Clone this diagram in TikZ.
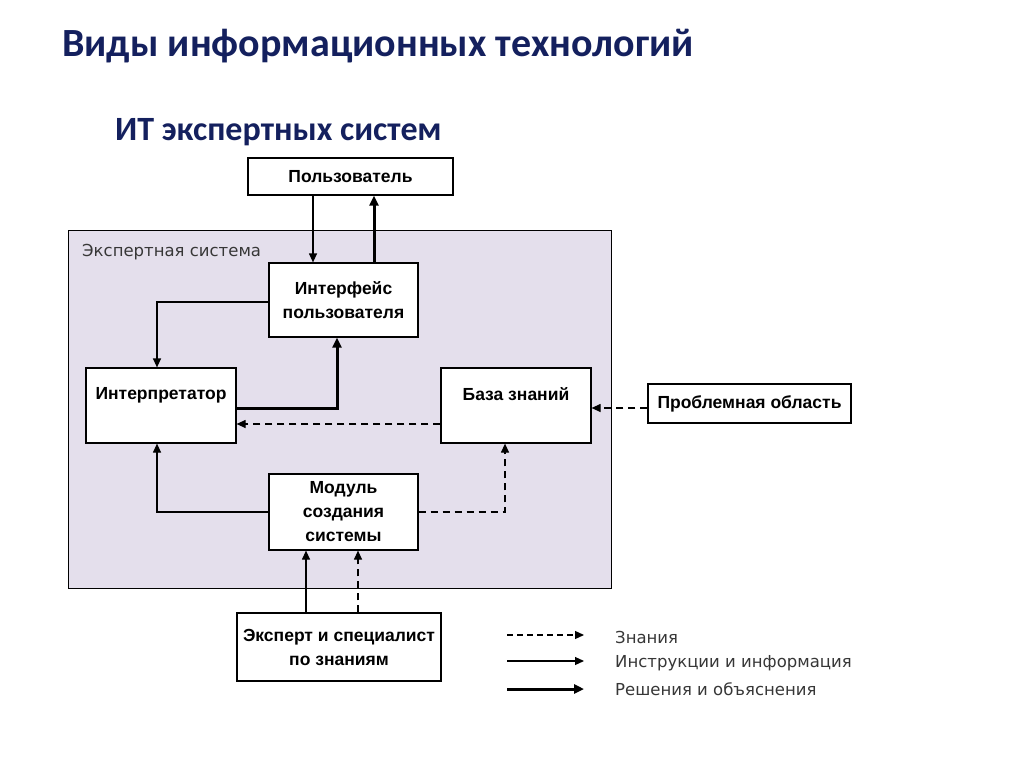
\documentclass[tikz,border=0pt]{standalone}
\usepackage{fontspec}
\setmainfont{Liberation Sans}
\newfontfamily\titlefont{Carlito}
\newfontfamily\boxfont{Liberation Sans}
\newfontfamily\lblfont{DejaVu Sans}
\usetikzlibrary{arrows.meta}
\definecolor{navy}{RGB}{20,32,94}
\definecolor{lav}{RGB}{228,223,236}
\definecolor{lblgray}{RGB}{55,55,55}
\tikzset{
  box/.style={draw=black, line width=1.2pt, fill=white, align=center,
    font=\boxfont\bfseries\fontsize{17.5}{24}\selectfont, inner sep=0pt},
  thin/.style={line width=1.2pt, -{Triangle[length=9pt,width=8pt]}},
  thick/.style={line width=3pt, -{Triangle[length=10pt,width=9pt]}},
  dsh/.style={line width=1.2pt, dash pattern=on 7pt off 5pt, -{Triangle[length=9pt,width=8pt]}},
  legtext/.style={anchor=west, text=lblgray, font=\lblfont\fontsize{16.5}{18}\selectfont, inner sep=0pt}
}
\begin{document}
\begin{tikzpicture}[x=1pt,y=-1pt]
\useasboundingbox[fill=white] (0,0) rectangle (1024,767);
% titles
\node[anchor=west, text=navy, font=\titlefont\bfseries\fontsize{40}{46}\selectfont, inner sep=0pt] (title) at (62,46) {Виды информационных технологий};
\node[anchor=west, text=navy, font=\titlefont\bfseries\fontsize{34}{40}\selectfont, inner sep=0pt] (sub) at (115,132) {ИТ экспертных систем};
% expert system background
\node[draw=black, line width=1.2pt, fill=lav, minimum width=543, minimum height=358, inner sep=0pt, anchor=north west] (es) at (68,230) {};
\node[anchor=west, text=lblgray, font=\lblfont\fontsize{16.5}{18}\selectfont, inner sep=0pt] (eslabel) at (82,252) {Экспертная система};
% boxes
\node[box, minimum width=205, minimum height=37] (user) at (350.5,176.5) {Пользователь};
\node[box, minimum width=149, minimum height=74] (iface) at (343.5,300) {Интерфейс\\пользователя};
\node[box, minimum width=150, minimum height=75] (interp) at (161,405.5) {Интерпретатор\\\mbox{}};
\node[box, minimum width=150, minimum height=75] (kb) at (516,405.5) {База знаний\\\mbox{}};
\node[box, minimum width=149, minimum height=76] (mod) at (343.5,512) {Модуль\\создания\\системы};
\node[box, minimum width=203, minimum height=39] (prob) at (749.5,403.5) {Проблемная область};
\node[box, minimum width=204, minimum height=68] (exp) at (339,647) {Эксперт и специалист\\по знаниям};
% connectors
\draw[thin] (user.south -| 313,0) -- (iface.north -| 313,0);
\draw[thick] (iface.north -| 374,0) -- (user.south -| 374,0);
\draw[thin] (iface.west |- 0,302) -| (interp.north -| 157,0);
\draw[thick] (interp.east |- 0,408) -| (iface.south -| 337,0);
\draw[dsh] (kb.west |- 0,424) -- (interp.east |- 0,424);
\draw[dsh] (prob.west |- 0,408) -- (kb.east |- 0,408);
\draw[thin] (mod.west |- 0,512) -| (interp.south -| 157,0);
\draw[dsh] (mod.east |- 0,512) -| (kb.south -| 505,0);
\draw[thin] (exp.north -| 306,0) -- (mod.south -| 306,0);
\draw[dsh] (exp.north -| 358,0) -- (mod.south -| 358,0);
% legend
\coordinate (l1a) at (507,635); \coordinate (l1b) at (584,635);
\coordinate (l2a) at (507,661); \coordinate (l2b) at (584,661);
\coordinate (l3a) at (507,689); \coordinate (l3b) at (584,689);
\draw[dsh, dash pattern=on 6pt off 4pt] (l1a) -- (l1b);
\draw[thin] (l2a) -- (l2b);
\draw[thick] (l3a) -- (l3b);
\node[legtext] (t1) at (615,637) {Знания};
\node[legtext] (t2) at (615,663) {Инструкции и информация};
\node[legtext] (t3) at (615,689) {Решения и объяснения};
\end{tikzpicture}
\end{document}
